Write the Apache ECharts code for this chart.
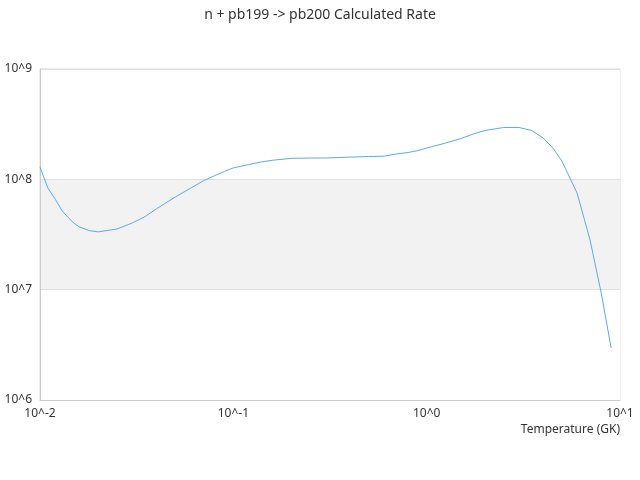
<!DOCTYPE html>
<html>
<head>
<meta charset="utf-8">
<title>n + pb199 -> pb200 Calculated Rate</title>
<script src="https://cdn.jsdelivr.net/npm/echarts@6/dist/echarts.min.js"></script>
<style>
  html, body { margin: 0; padding: 0; background: #fff; }
  #chart { width: 640px; height: 480px; }
</style>
</head>
<body>
<div id="chart"></div>
<script>
// temperature grid (GK) and the calculated rate
var temps = [0.01, 0.011, 0.012, 0.013, 0.014, 0.015, 0.016, 0.018, 0.02, 0.025,
	0.03, 0.035, 0.04, 0.05, 0.06, 0.07, 0.08, 0.09, 0.1, 0.12,
	0.14, 0.16, 0.2, 0.25, 0.3, 0.4, 0.5, 0.6, 0.7, 0.8,
	0.9, 1, 1.25, 1.5, 1.75, 2, 2.5, 3, 3.5, 4,
	4.5, 5, 6, 7, 8, 9];
var rates = [1.29e8, 8.3e7, 6.6e7, 5.2e7, 4.5e7, 4.0e7, 3.7e7, 3.43e7, 3.34e7, 3.55e7,
	4.02e7, 4.6e7, 5.4e7, 6.9e7, 8.3e7, 9.7e7, 1.08e8, 1.18e8, 1.27e8, 1.36e8,
	1.44e8, 1.49e8, 1.55e8, 1.56e8, 1.56e8, 1.59e8, 1.61e8, 1.62e8, 1.70e8, 1.75e8,
	1.82e8, 1.92e8, 2.13e8, 2.34e8, 2.58e8, 2.77e8, 2.95e8, 2.95e8, 2.77e8, 2.37e8,
	1.92e8, 1.47e8, 7.5e7, 2.82e7, 9.3e6, 2.96e6];

var chartTitle = 'n + pb199 -> pb200 Calculated Rate';
var xName = 'Temperature (GK)';

var myChart;

function powLabel(v) {
	return '10^' + Math.round(Math.log10(v));
}

function drawChart() {
	myChart = echarts.init(document.getElementById('chart'));

	var points = [];
	for (var i = 0; i < temps.length; i++) {
		points.push([temps[i], rates[i]]);
	}

	var option = {
		animation: false,
		textStyle: { fontFamily: 'Noto Sans' },
		title: {
			text: chartTitle,
			left: 'center',
			top: 3,
			textStyle: {
				fontFamily: 'Noto Sans',
				fontSize: 14,
				fontWeight: 'normal',
				color: '#333'
			}
		},
		grid: {
			left: 40,
			right: 20,
			top: 69,
			bottom: 80,
			outerBoundsMode: 'none',
			show: true,
			borderColor: '#ddd',
			borderWidth: 1
		},
		xAxis: {
			type: 'log',
			logBase: 10,
			min: 0.01,
			max: 10,
			name: xName,
			nameLocation: 'end',
			nameGap: 0,
			nameTextStyle: {
				align: 'right',
				verticalAlign: 'top',
				padding: [24, 0, 0, 0],
				color: '#333',
				fontSize: 12
			},
			axisLine: { lineStyle: { color: '#ccc' } },
			axisTick: { show: false },
			splitLine: { show: false },
			axisLabel: {
				color: '#333',
				fontSize: 12,
				formatter: powLabel
			}
		},
		yAxis: {
			type: 'log',
			logBase: 10,
			min: 1e6,
			max: 1e9,
			axisLine: { show: true, lineStyle: { color: '#ccc' } },
			axisTick: { show: false },
			splitLine: { show: true, lineStyle: { color: '#e0e0e0' } },
			splitArea: {
				show: true,
				areaStyle: { color: ['#f2f2f2', '#ffffff'] }
			},
			axisLabel: {
				color: '#333',
				fontSize: 12,
				formatter: powLabel
			}
		},
		series: [
			{
				type: 'line',
				data: points,
				showSymbol: false,
				lineStyle: { color: '#5ea8f2', width: 1 }
			}
		]
	};
	myChart.setOption(option);
}

drawChart();

window.onresize = function() {
	myChart.resize();
};
</script>
</body>
</html>
